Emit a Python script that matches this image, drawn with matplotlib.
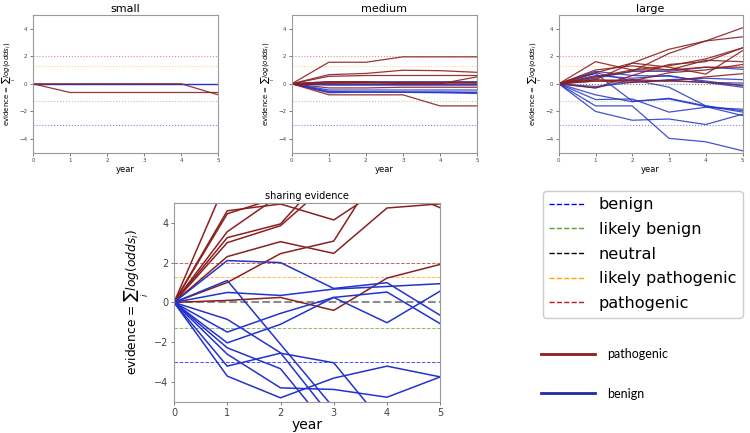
import matplotlib
matplotlib.use("Agg")
import matplotlib.pyplot as plt
from matplotlib.lines import Line2D

years = [0, 1, 2, 3, 4, 5]

# evidence thresholds
thr_names = ["benign", "likely benign", "neutral", "likely pathogenic", "pathogenic"]
thr_values = [-3.0, -1.27, 0.0, 1.27, 2.0]
thr_colors = ["blue", "#5aa02a", "black", "orange", "#b02020"]

# small
small_red = [
    [0, -0.63, -0.63, -0.63, -0.63, -0.63],
    [0, 0, 0, 0, 0, -0.8],
]
small_blue = [
    [0, 0, 0, 0, 0, 0],
    [0, 0, 0, 0, 0, 0],
]

# medium
medium_red = [
    [0, 1.56, 1.56, 1.95, 1.95, 1.95],
    [0, 0.66, 0.75, 0.98, 0.95, 0.83],
    [0, 0.54, 0.6, 0.6, 0.6, 0.6],
    [0, 0.1, 0.1, 0.1, 0.1, 0.1],
    [0, 0.15, 0.15, 0.0, 0.0, 0.0],
    [0, 0, 0, 0, 0, 0.5],
    [0, -0.3, -0.3, -0.25, -0.25, -0.25],
    [0, -0.8, -0.8, -0.8, -1.6, -1.6],
]
medium_blue = [
    [0, 0.15, 0.15, 0.15, 0.15, 0.15],
    [0, 0.05, 0.1, 0.1, 0.1, 0.1],
    [0, 0, 0, 0, 0, 0],
    [0, -0.1, -0.1, -0.1, -0.1, -0.1],
    [0, -0.45, -0.45, -0.45, -0.45, -0.45],
    [0, -0.6, -0.6, -0.6, -0.6, -0.6],
    [0, -0.55, -0.6, -0.6, -0.6, -0.65],
    [0, -0.65, -0.6, -0.62, -0.65, -0.7],
]

# large
large_red = [
    [0, 0.3, 1.5, 2.5, 3.1, 4.05],
    [0, 0.5, 0.9, 2.2, 3.1, 3.4],
    [0, 1.6, 1.0, 1.0, 1.2, 1.2],
    [0, 0.5, 1.0, 1.3, 1.8, 2.6],
    [0, -0.3, 0.6, 1.4, 1.6, 2.6],
    [0, 0.8, 1.5, 1.2, 0.7, 2.4],
    [0, 1.0, 1.3, 1.0, 1.7, 1.6],
    [0, 0.3, 0.2, 0.8, 1.0, 1.4],
    [0, 0.2, 0.3, 0.2, 0.5, 0.73],
    [0, 0.2, 0.1, 0.25, 0.1, -0.1],
]
large_blue = [
    [0, -2.0, -2.64, -2.55, -2.95, -2.2],
    [0, -1.6, -1.6, -3.95, -4.2, -4.85],
    [0, -1.14, -1.1, -2.05, -1.7, -1.84],
    [0, -0.8, -1.3, -1.05, -1.6, -2.05],
    [0, -0.3, 0.3, -0.25, -1.6, -1.95],
    [0, 0.9, 0.6, 0.55, 0.2, -0.15],
    [0, 0.6, 0.4, 0.6, 0.1, 0.05],
    [0, 0.4, 0.9, 0.9, 1.2, 1.05],
    [0, -0.2, 0.1, 0.3, 0.4, 0.3],
    [0, 0.8, 0.2, 0.2, 0.1, -0.25],
    [0, 0.75, -1.25, -1.1, -1.65, -2.3],
]

# sharing evidence
shared_red = [
    [0, 6.2, 7.0, 7.5, 8.0, 8.5],
    [0, 4.6, 4.94, 4.14, 5.9, 4.75],
    [0, 4.45, 5.3, 6.0, 6.5, 7.0],
    [0, 3.55, 5.4, 6.2, 6.8, 7.2],
    [0, 3.25, 3.94, 6.9, 7.5, 8.0],
    [0, 3.0, 3.85, 6.2, 7.0, 7.5],
    [0, 2.3, 3.05, 2.46, 4.74, 4.95],
    [0, 1.0, 2.45, 3.08, 7.3, 8.0],
    [0, 0.1, 0.25, -0.4, 1.22, 1.91],
]
shared_blue = [
    [0, 2.1, 2.0, 0.7, 0.99, -0.65],
    [0, 0.5, 0.35, 0.67, 0.8, 0.94],
    [0, 1.1, -2.1, -5.3, -6.0, -6.0],
    [0, -0.85, -2.53, -5.9, -6.5, -7.0],
    [0, -1.49, -0.55, 0.25, 0.52, -1.07],
    [0, -2.03, -1.1, 0.25, -1.02, 0.57],
    [0, -2.28, -3.33, -6.6, -7.0, -7.0],
    [0, -2.6, -4.29, -4.37, -4.76, -3.74],
    [0, -3.2, -2.55, -3.03, -6.3, -7.0],
    [0, -3.7, -4.79, -3.8, -3.2, -3.74],
]

RED = "#8b2020"
BLUE = "#2233cc"
ylab = r"evidence = $\sum_i log(odds_i)$"

fig = plt.figure(figsize=(7.5, 4.33), dpi=100)


def style_axes(ax, tick_fs):
    ax.set_xlim(0, 5)
    ax.set_ylim(-5, 5)
    ax.set_xticks(years)
    ax.set_yticks([-4, -2, 0, 2, 4])
    ax.tick_params(labelsize=tick_fs, colors="#444444", length=2, width=0.5, pad=2)
    for s in ax.spines.values():
        s.set_color("#999999")
        s.set_linewidth(0.8)


def draw_panel(ax, red, blue, title):
    for v, c in zip(thr_values, thr_colors):
        ax.axhline(v, color=c, ls=":", lw=0.8, alpha=0.5)
    for row in blue:
        ax.plot(years, row, color=BLUE, lw=0.9, alpha=0.85)
    for row in red:
        ax.plot(years, row, color=RED, lw=0.9, alpha=0.9)
    style_axes(ax, 4)
    ax.set_title(title, fontsize=8, pad=2)
    ax.set_xlabel("year", fontsize=6, labelpad=1)
    ax.set_ylabel(ylab, fontsize=5, labelpad=1)


ax1 = fig.add_axes([0.044, 0.647, 0.247, 0.319])
draw_panel(ax1, small_red, small_blue, "small")
ax2 = fig.add_axes([0.389, 0.647, 0.247, 0.319])
draw_panel(ax2, medium_red, medium_blue, "medium")
ax3 = fig.add_axes([0.745, 0.647, 0.245, 0.319])
draw_panel(ax3, large_red, large_blue, "large")

# big panel
ax = fig.add_axes([0.232, 0.0716, 0.355, 0.46])
handles = []
for name, v, c in zip(thr_names, thr_values, thr_colors):
    if name == "neutral":
        ax.axhline(v, color="gray", ls="--", lw=1.5, alpha=0.9)
    else:
        ax.axhline(v, color=c, ls="--", lw=0.7, alpha=0.7)
    handles.append(Line2D([], [], color=c, ls="--", lw=1.0, label=name))
for row in shared_red:
    ax.plot(years, row, color=RED, lw=1.1)
for row in shared_blue:
    ax.plot(years, row, color=BLUE, lw=1.1)
style_axes(ax, 7)
ax.set_title("sharing evidence", fontsize=7, pad=3)
ax.set_xlabel("year", fontsize=10, labelpad=0)
ax.set_ylabel(ylab, fontsize=8.8, labelpad=2)

fig.legend(handles=handles, loc="upper left", bbox_to_anchor=(0.724, 0.559),
           fontsize=11.6, handlelength=2.2, handletextpad=0.85, labelspacing=0.6,
           borderpad=0.4, borderaxespad=0, framealpha=1, edgecolor="#cccccc")

solid = [Line2D([], [], color=RED, lw=2, label="pathogenic"),
         Line2D([], [], color="#1a2aaa", lw=2, label="benign")]
fig.legend(handles=solid, loc="upper left", bbox_to_anchor=(0.715, 0.207),
           frameon=False, prop={"family": "Lato", "size": 9},
           handlelength=4.3, handletextpad=1.0, labelspacing=2.2,
           borderaxespad=0)

fig.savefig("out.png", dpi=100)
